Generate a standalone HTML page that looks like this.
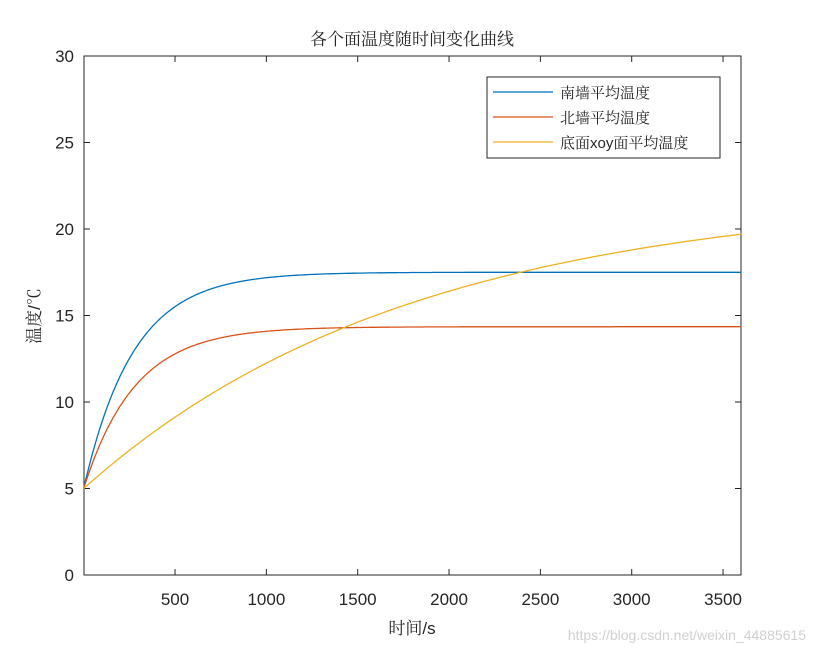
<!DOCTYPE html>
<html><head><meta charset="utf-8"><style>
html,body{margin:0;padding:0;background:#fff;}
svg{display:block;}
text{font-family:"Liberation Sans","Noto Sans CJK SC",sans-serif;fill:#262626;}
.cj{font-family:"Liberation Sans","Noto Serif CJK SC",serif;}
</style></head><body>
<svg id="s" width="813" height="652" viewBox="0 0 813 652">
<rect x="84" y="56" width="657" height="519" fill="#fff" stroke="#262626" stroke-width="1"/>
<g id="ticks"></g>
<g id="curves" fill="none" stroke-width="1.3"></g>
<text class="cj" x="412" y="45" font-size="17" text-anchor="middle">各个面温度随时间变化曲线</text>
<text class="cj" x="412" y="634" font-size="17" text-anchor="middle">时间/s</text>
<text class="cj" transform="translate(40,316) rotate(-90)" font-size="17" text-anchor="middle">温度/℃</text>
<rect x="487" y="77" width="233" height="81" fill="#fff" stroke="#262626" stroke-width="1"/>
<line x1="493" y1="92" x2="553" y2="92" stroke="#0072BD" stroke-width="1.3"/>
<line x1="493" y1="117" x2="553" y2="117" stroke="#D95319" stroke-width="1.3"/>
<line x1="493" y1="142" x2="553" y2="142" stroke="#EDB120" stroke-width="1.3"/>
<text class="cj" x="560" y="98" font-size="15">南墙平均温度</text>
<text class="cj" x="560" y="123" font-size="15">北墙平均温度</text>
<text class="cj" x="560" y="148" font-size="15">底面xoy面平均温度</text>
<text x="806" y="640" font-size="14" text-anchor="end" style="fill:#d0d0d0">https://blog.csdn.net/weixin_44885615</text>
</svg>
<script>
var X=function(t){return 83.7+t*0.18267},Y=function(v){return 575-v*17.3};
var g=document.getElementById('ticks'),h='';
for(var v=0;v<=30;v+=5){var y=Y(v);h+='<line x1="84" y1="'+y+'" x2="90" y2="'+y+'" stroke="#262626"/><line x1="735" y1="'+y+'" x2="741" y2="'+y+'" stroke="#262626"/><text x="74" y="'+(y+6)+'" font-size="17" text-anchor="end">'+v+'</text>';}
for(var t=500;t<=3500;t+=500){var x=X(t);h+='<line x1="'+x+'" y1="575" x2="'+x+'" y2="569" stroke="#262626"/><line x1="'+x+'" y1="56" x2="'+x+'" y2="62" stroke="#262626"/><text x="'+x+'" y="605" font-size="17" text-anchor="middle">'+t+'</text>';}
g.innerHTML=h;
function p(A,tau,c){var d='';for(var t=0;t<=3600;t+=10){d+=(t?'L':'M')+X(t).toFixed(1)+','+Y(5+A*(1-Math.exp(-t/tau))).toFixed(1);}return '<path d="'+d+'" stroke="'+c+'"/>';}
document.getElementById('curves').innerHTML=p(12.5,272,'#0072BD')+p(9.35,280,'#D95319')+p(17,1800,'#EDB120');
</script>
</body></html>
